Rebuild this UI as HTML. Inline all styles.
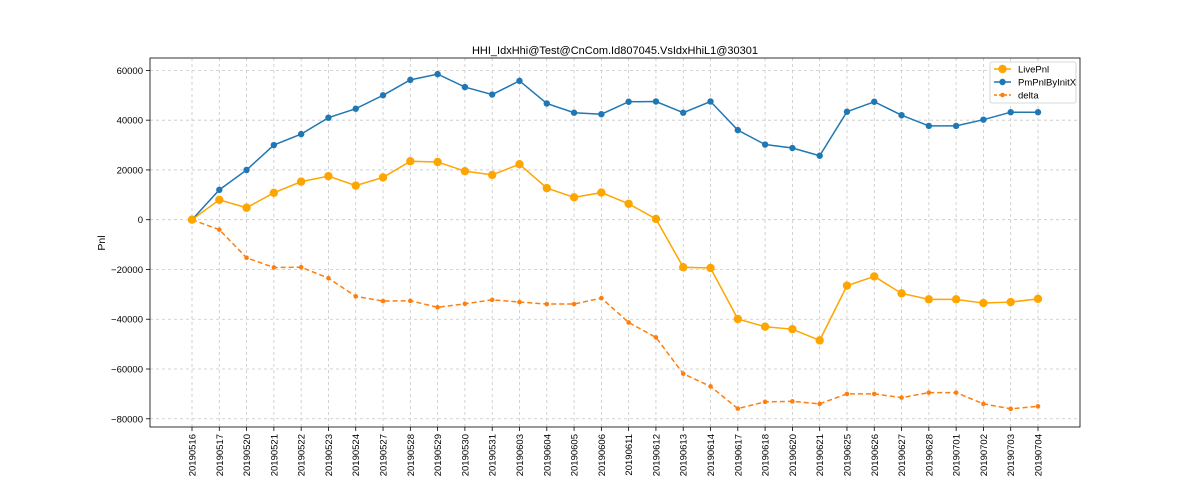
<!DOCTYPE html>
<html><head><meta charset="utf-8"><style>
body{margin:0;background:#fff;}
svg text{font-family:"Liberation Sans","DejaVu Sans",sans-serif;}
</style></head><body>
<svg id="chart" width="1200" height="480"></svg>
<script>
const categories=["20190516","20190517","20190520","20190521","20190522","20190523","20190524","20190527","20190528","20190529","20190530","20190531","20190603","20190604","20190605","20190606","20190611","20190612","20190613","20190614","20190617","20190618","20190620","20190621","20190625","20190626","20190627","20190628","20190701","20190702","20190703","20190704"];
const livePnl=[0,8000,4800,10800,15300,17500,13700,17000,23500,23200,19500,18000,22300,12700,9000,10900,6400,300,-19100,-19400,-39900,-43000,-44000,-48500,-26500,-22800,-29600,-32000,-32000,-33500,-33100,-31800];
const pmPnl=[0,12000,20000,30000,34400,41000,44600,50000,56200,58500,53300,50300,55800,46700,43000,42400,47400,47500,43000,47500,36000,30200,28800,25700,43400,47400,42000,37700,37700,40200,43200,43200];
const delta=[0,-4000,-15300,-19200,-19100,-23500,-30800,-32700,-32600,-35200,-33800,-32200,-33100,-33900,-33900,-31500,-41300,-47300,-61900,-67000,-75900,-73200,-73000,-74000,-70000,-70000,-71500,-69500,-69500,-74000,-76000,-75000];
const yTicks=[60000,40000,20000,0,-20000,-40000,-60000,-80000];
const yTickLabels=["60000","40000","20000","0","\u221220000","\u221240000","\u221260000","\u221280000"];

const svg=document.getElementById('chart');
const NS='http://www.w3.org/2000/svg';
const L=150,R=1080,T=58,B=427;
const x0=192,x1=1038;
function xs(i){return x0+(x1-x0)*i/(categories.length-1);}
function ys(v){return 219.7-v*149.3/60000;}
function mk(tag,attrs,parent){const e=document.createElementNS(NS,tag);for(const k in attrs)e.setAttribute(k,attrs[k]);(parent||svg).appendChild(e);return e;}

const t=mk('text',{x:615,y:54,'font-size':11,'text-anchor':'middle',fill:'#000'});


t.textContent='HHI_IdxHhi@Test@CnCom.Id807045.VsIdxHhiL1@30301';

const grid=mk('g',{stroke:'#b0b0b0','stroke-width':0.8,'stroke-dasharray':'3,3',opacity:0.7});


categories.forEach((c,i)=>{mk('line',{x1:xs(i),x2:xs(i),y1:T,y2:B},grid);});
yTicks.forEach(v=>{mk('line',{x1:L,x2:R,y1:ys(v),y2:ys(v)},grid);});

const xa=mk('g',{});


categories.forEach((c,i)=>{
  mk('line',{x1:xs(i),x2:xs(i),y1:B,y2:B+4,stroke:'#000','stroke-width':0.8},xa);
  const tx=mk('text',{x:0,y:0,'font-size':9.5,'text-anchor':'end',transform:`translate(${xs(i)+3.5},${B+7}) rotate(-90)`},xa);
  
  
  tx.textContent=c;
});
const ya=mk('g',{});


yTicks.forEach((v,i)=>{
  mk('line',{x1:L-4,x2:L,y1:ys(v),y2:ys(v),stroke:'#000','stroke-width':0.8},ya);
  const tx=mk('text',{x:L-7,y:ys(v)+3.5,'font-size':9.5,'text-anchor':'end'},ya);
  
  
  tx.textContent=yTickLabels[i];
});
const yl=mk('text',{x:0,y:0,'font-size':10.5,'text-anchor':'middle',transform:'translate(105,243) rotate(-90)'});


yl.textContent='Pnl';

function series(vals,color,r,dash,name){
  const g=mk('g',{});
  
  
  const pts=vals.map((v,i)=>xs(i)+','+ys(v)).join(' ');
  const a={points:pts,fill:'none',stroke:color,'stroke-width':1.5};
  if(dash)a['stroke-dasharray']=dash;
  mk('polyline',a,g);
  vals.forEach((v,i)=>{const c=mk('circle',{cx:xs(i),cy:ys(v),r:r,fill:color},g);
    
    });
}
series(delta,'#ff7f0e',2.3,'5,3','delta-series');
series(pmPnl,'#1f77b4',3.2,null,'pmpnl-series');
series(livePnl,'#ffa500',4.2,null,'livepnl-series');

const frame=mk('rect',{x:L,y:T,width:R-L,height:B-T,fill:'none',stroke:'#000','stroke-width':0.8});



const lg=mk('g',{});


mk('rect',{x:990,y:62,width:86,height:41,fill:'#fff',stroke:'#ccc','stroke-width':0.8,rx:2},lg);
const items=[['LivePnl','#ffa500',4.2,null],['PmPnlByInitX','#1f77b4',3.2,null],['delta','#ff7f0e',2.3,'3,2']];
items.forEach((it,k)=>{
  const y=69+k*13;
  const e=mk('g',{},lg);
  
  
  const la={x1:994,x2:1011,y1:y,y2:y,stroke:it[1],'stroke-width':1.5};
  if(it[3])la['stroke-dasharray']=it[3];
  mk('line',la,e);
  mk('circle',{cx:1002.5,cy:y,r:it[2],fill:it[1]},e);
  const tx=mk('text',{x:1018,y:y+3.5,'font-size':9.5},e);
  tx.textContent=it[0];
});
</script>
</body></html>
